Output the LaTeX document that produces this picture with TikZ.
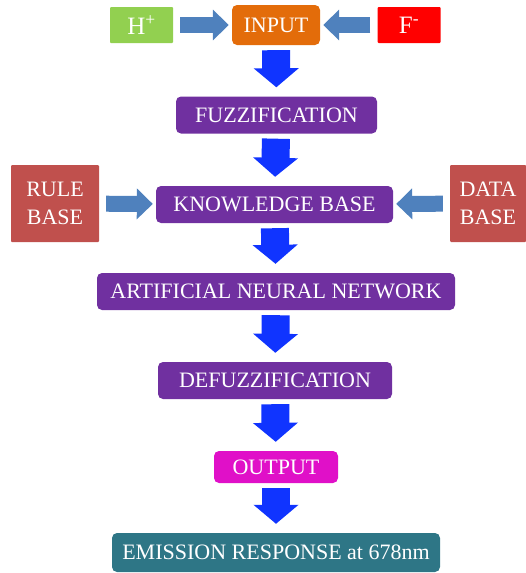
\documentclass[tikz,border=0pt]{standalone}
\usepackage{fontspec}
\setmainfont{Liberation Serif}
\usetikzlibrary{arrows.meta}

\definecolor{inputorange}{HTML}{E36C0A}
\definecolor{stepviolet}{HTML}{7030A0}
\definecolor{ionsgreen}{HTML}{92D050}
\definecolor{ionsred}{HTML}{FF0000}
\definecolor{basered}{HTML}{C0504D}
\definecolor{sidearrow}{HTML}{4F81BD}
\definecolor{flowblue}{HTML}{1034FF}
\definecolor{outmagenta}{HTML}{E010C8}
\definecolor{emitteal}{HTML}{2E7686}

\begin{document}
\begin{tikzpicture}[
        x=1pt, y=-1pt,
        box/.style={rounded corners=5pt, text=white, align=center, inner sep=0pt, font=\fontsize{22}{28}\selectfont},
        ion/.style={box, rounded corners=1pt, minimum width=63pt, minimum height=36pt, font=\fontsize{25}{28}\selectfont},
        sidebox/.style={box, rounded corners=1pt, fill=basered, minimum width=88pt, minimum height=77pt},
        stepbox/.style={box, fill=stepviolet, minimum height=37pt},
        down/.style={flowblue, line width=28pt, shorten <=5pt, shorten >=9pt, -{Triangle[length=19pt, width=44pt]}},
        side/.style={sidearrow, line width=16pt, shorten <=7pt, shorten >=3pt, -{Triangle[length=16pt, width=30pt]}}
    ]
        \useasboundingbox (0,0) rectangle (525,573);

        % inputs
        \node[ion, fill=ionsgreen] (hplus) at (141.5,25) {H\textsuperscript{+}};
        \node[box, fill=inputorange, minimum width=88pt, minimum height=40pt] (input) at (276,25) {INPUT};
        \node[ion, fill=ionsred] (fminus) at (409,25) {F\textsuperscript{-}};

        % fuzzy chain
        \node[stepbox, minimum width=201pt] (fuzz) at (276.5,115) {FUZZIFICATION};
        \node[stepbox, minimum width=237pt] (kb) at (274.5,204.5) {KNOWLEDGE BASE};
        \node[sidebox] (rule) at (55,203.5) {RULE\\BASE};
        \node[sidebox, minimum width=76pt] (data) at (488,203.5) {DATA\\BASE};
        \node[stepbox, minimum width=358pt] (ann) at (276,291.5) {ARTIFICIAL NEURAL NETWORK};
        \node[stepbox, minimum width=234pt] (defuzz) at (275,380.5) {DEFUZZIFICATION};
        \node[box, fill=outmagenta, minimum width=124pt, minimum height=32pt] (output) at (276,467) {OUTPUT};
        \node[box, fill=emitteal, minimum width=328pt, minimum height=39pt] (emit) at (276,552.5) {EMISSION RESPONSE at 678nm};

        % arrows
        \draw[side] (hplus) -- (input);
        \draw[side] (fminus) -- (input);
        \draw[side] (rule) -- (kb);
        \draw[side] (data) -- (kb);
        \draw[down] (input) -- (fuzz);
        \draw[down] (fuzz) -- (kb);
        \draw[down] (kb) -- (ann);
        \draw[down] (ann) -- (defuzz);
        \draw[down] (defuzz) -- (output);
        \draw[down] (output) -- (emit);
    \end{tikzpicture}
\end{document}
